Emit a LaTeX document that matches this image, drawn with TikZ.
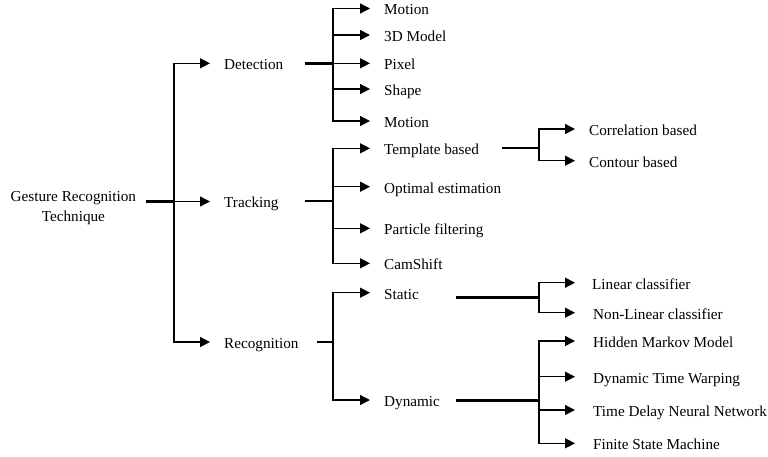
\documentclass[tikz,border=0pt]{standalone}
\usepackage{fontspec}
\setmainfont{Liberation Serif}
\usetikzlibrary{arrows.meta}
\begin{document}
\begin{tikzpicture}[x=1pt,y=-1pt,
  lbl/.style={anchor=west, inner xsep=14pt, inner ysep=0pt, text height=12.9pt, text depth=0pt, font=\fontsize{15.2pt}{16pt}\selectfont},
  conn/.style={line width=1.4pt, -{Triangle[length=10pt,width=10pt]}},
  stemline/.style={line width=2.8pt},
]
\useasboundingbox (0,0) rectangle (768,456);

% root
\node[font=\fontsize{15.2pt}{20.5pt}\selectfont, align=center, inner sep=0pt] (root) at (73.4,208) {Gesture Recognition\\Technique};

% level 1
\node[lbl] (det) at (210,63.3) {Detection};
\node[lbl] (trk) at (210,201.5) {Tracking};
\node[lbl] (rec) at (210,342) {Recognition};

% detection children
\node[lbl] (mo1) at (370,8.5) {Motion};
\node[lbl] (m3d) at (370,35) {3D Model};
\node[lbl] (pix) at (370,63.3) {Pixel};
\node[lbl] (shp) at (370,89) {Shape};
\node[lbl] (mo2) at (370,121) {Motion};

% tracking children
\node[lbl] (tmp) at (370,148.3) {Template based};
\node[lbl] (opt) at (370,186.7) {Optimal estimation};
\node[lbl] (par) at (370,228.3) {Particle filtering};
\node[lbl] (cam) at (370,263.3) {CamShift};

% recognition children
\node[lbl] (sta) at (370,292.7) {Static};
\node[lbl] (dyn) at (370,400) {Dynamic};

% template children
\node[lbl] (cor) at (575,129) {Correlation based};
\node[lbl] (con) at (575,160.7) {Contour based};

% static children
\node[lbl, inner xsep=17pt] (lin) at (575,282.7) {Linear classifier};
\node[lbl, inner xsep=18pt] (nlin) at (575,312.7) {Non-Linear classifier};

% dynamic children
\node[lbl, inner xsep=18pt] (hmm) at (575,341) {Hidden Markov Model};
\node[lbl, inner xsep=18pt] (dtw) at (575,376.7) {Dynamic Time Warping};
\node[lbl, inner xsep=18pt] (tdnn) at (575,410) {Time Delay Neural Network};
\node[lbl, inner xsep=18pt] (fsm) at (575,443.3) {Finite State Machine};

% junction coordinates
\coordinate (rootS) at (146,201.5);  \coordinate (rootJ) at (174,201.5);
\coordinate (detS) at (305,63.3);    \coordinate (detJ) at (333,63.3);
\coordinate (trkS) at (305,201);     \coordinate (trkJ) at (333,201);
\coordinate (recS) at (317,342);     \coordinate (recJ) at (333,342);
\coordinate (tmpS) at (502,148);     \coordinate (tmpJ) at (539,148);
\coordinate (staS) at (456,297.3);   \coordinate (staJ) at (539,297.3);
\coordinate (dynS) at (456,400.7);   \coordinate (dynJ) at (539,400.7);

% stems
\foreach \s in {root,det,trk,rec,tmp,sta,dyn}
  \draw[stemline] (\s S) -- (\s J);

% connectors
\draw[conn] (rootJ) |- (det.west);
\draw[conn] (rootJ) |- (trk.west);
\draw[conn] (rootJ) |- (rec.west);

\foreach \t in {mo1,m3d,pix,shp,mo2}
  \draw[conn] (detJ) |- (\t.west);
\foreach \t in {tmp,opt,par,cam}
  \draw[conn] (trkJ) |- (\t.west);
\foreach \t in {sta,dyn}
  \draw[conn] (recJ) |- (\t.west);
\foreach \t in {cor,con}
  \draw[conn] (tmpJ) |- (\t.west);
\foreach \t in {lin,nlin}
  \draw[conn] (staJ) |- (\t.west);
\foreach \t in {hmm,dtw,tdnn,fsm}
  \draw[conn] (dynJ) |- (\t.west);
\end{tikzpicture}
\end{document}
